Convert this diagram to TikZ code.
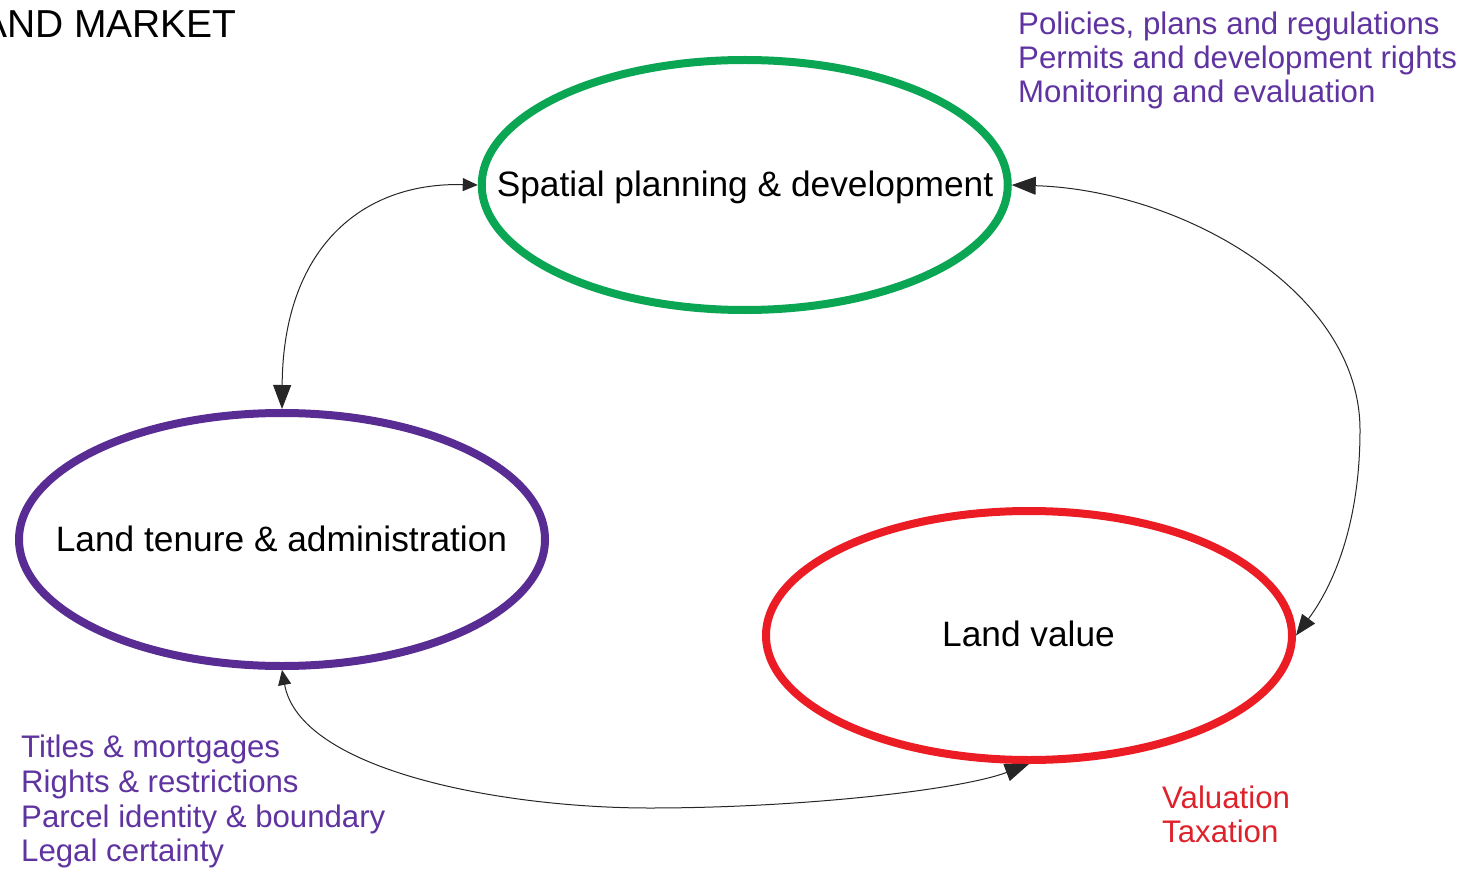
\documentclass[tikz,border=0pt]{standalone}
\usepackage{fontspec}
\setmainfont{Liberation Sans}
\usetikzlibrary{shapes.geometric,arrows.meta}
\definecolor{cgreen}{RGB}{10,166,84}
\definecolor{cpurple}{RGB}{88,44,146}
\definecolor{cred}{RGB}{236,28,36}
\definecolor{tpurple}{RGB}{96,52,160}
\definecolor{tred}{RGB}{222,34,44}
\tikzset{
  ell/.style={ellipse, line width=8pt, inner sep=0pt, minimum width=526pt, minimum height=250pt},
  mainlbl/.style={anchor=base, inner sep=0pt, font=\fontsize{35.3}{42}\selectfont, text=black},
  sidelbl/.style={anchor=base west, inner sep=0pt, font=\fontsize{31.2}{34.5}\selectfont},
  conn/.style={line width=1pt, draw=black!85},
  tipS/.tip={Triangle[length=15pt,width=13pt]},
  tipL/.tip={Triangle[length=24pt,width=18pt]},
  tipM/.tip={Triangle[length=21pt,width=16pt]}
}
\begin{document}
\begin{tikzpicture}[x=1pt,y=-1pt]
\useasboundingbox (0,0) rectangle (1467,869);
% header
\node[anchor=base east, inner sep=0pt, font=\fontsize{39}{44}\selectfont] (hdr) at (237,38) {AND MARKET};
% ellipses
\node[ell, draw=cgreen] (sp) at (744.75,185) {};
\node[ell, draw=cpurple, minimum height=253pt] (lt) at (282,539.5) {};
\node[ell, draw=cred, minimum height=249pt] (lv) at (1029,635.5) {};
% ellipse labels
\node[mainlbl] (spt) at (745,197) {Spatial planning \& development};
\node[mainlbl] (ltt) at (281.5,551) {Land tenure \& administration};
\node[mainlbl] (lvt) at (1028.5,646) {Land value};
% side texts
\node[sidelbl, text=tpurple] (sp1) at (1018,35) {Policies, plans and regulations};
\node[sidelbl, text=tpurple] (sp2) at (1018,69) {Permits and development rights};
\node[sidelbl, text=tpurple] (sp3) at (1018,103) {Monitoring and evaluation};
\node[sidelbl, text=tpurple] (lt1) at (21,757) {Titles \& mortgages};
\node[sidelbl, text=tpurple] (lt2) at (21,792) {Rights \& restrictions};
\node[sidelbl, text=tpurple] (lt3) at (21,827) {Parcel identity \& boundary};
\node[sidelbl, text=tpurple] (lt4) at (21,861) {Legal certainty};
\node[sidelbl, text=tred] (lv1) at (1162,808) {Valuation};
\node[sidelbl, text=tred] (lv2) at (1162,842) {Taxation};
% connectors
\coordinate (c2) at (1360,430);
\coordinate (c3) at (650,808);
\draw[conn, {tipS}-{tipL}] (sp.west) .. controls (360,182) and (283,250) .. (lt.north);
\draw[conn, {tipL}-{tipM}] (sp.east) .. controls (1180,190) and (1360,290) .. (c2)
      .. controls (1360,530) and (1330,590) .. (lv.east);
\draw[conn, {tipS}-{tipL}] (lt.south) .. controls (300,770) and (500,808) .. (c3)
      .. controls (800,808) and (960,790) .. (lv.south);
\end{tikzpicture}
\end{document}
